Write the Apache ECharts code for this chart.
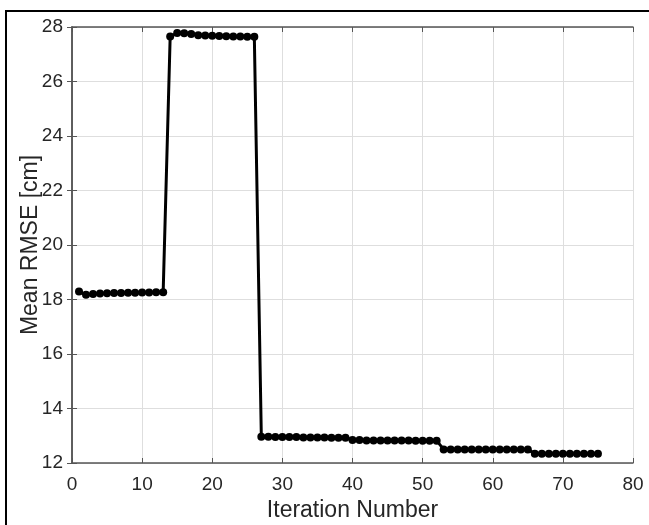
<!DOCTYPE html>
<html>
<head>
<meta charset="utf-8">
<script src="https://cdn.jsdelivr.net/npm/echarts@6/dist/echarts.min.js"></script>
<style>
  html, body { margin: 0; padding: 0; background: #fff; }
  #chart { width: 649px; height: 525px; }
</style>
</head>
<body>
<div id="chart"></div>
<script>
// iteration numbers on the x axis
var iterations = [
    1, 2, 3, 4, 5, 6, 7, 8, 9, 10, 11, 12, 13,
    14, 15, 16, 17, 18, 19, 20, 21, 22, 23, 24, 25, 26,
    27, 28, 29, 30, 31, 32, 33, 34, 35, 36, 37, 38, 39,
    40, 41, 42, 43, 44, 45, 46, 47, 48, 49, 50, 51, 52,
    53, 54, 55, 56, 57, 58, 59, 60, 61, 62, 63, 64, 65,
    66, 67, 68, 69, 70, 71, 72, 73, 74, 75
];
// mean RMSE per iteration, in cm
var meanRmse = [
    18.29, 18.17, 18.20, 18.22, 18.23, 18.24, 18.24, 18.25, 18.25, 18.26, 18.26, 18.27, 18.27,
    27.65, 27.78, 27.77, 27.74, 27.70, 27.69, 27.68, 27.67, 27.66, 27.65, 27.65, 27.64, 27.64,
    12.96, 12.96, 12.95, 12.95, 12.95, 12.95, 12.94, 12.94, 12.94, 12.94, 12.93, 12.93, 12.93,
    12.84, 12.84, 12.83, 12.83, 12.83, 12.83, 12.83, 12.83, 12.83, 12.82, 12.82, 12.82, 12.82,
    12.50, 12.50, 12.50, 12.50, 12.50, 12.50, 12.50, 12.50, 12.50, 12.50, 12.50, 12.50, 12.50,
    12.34, 12.34, 12.34, 12.34, 12.34, 12.34, 12.34, 12.34, 12.34, 12.34
];
var xTicks = [0, 10, 20, 30, 40, 50, 60, 70, 80];
var yTicks = [12, 14, 16, 18, 20, 22, 24, 26, 28];

var points = [];
for (var i = 0; i < iterations.length; i++) {
    points.push([iterations[i], meanRmse[i]]);
}

var axisColor = '#555';
var font = 'Liberation Sans, Arial, sans-serif';
var labelStyle = { color: '#262626', fontSize: 19, fontFamily: font };
var nameStyle = { color: '#262626', fontSize: 23, fontFamily: font };

var chart = echarts.init(document.getElementById('chart'), null, { renderer: 'canvas' });

var option = {
    backgroundColor: '#fff',
    animation: false,
    // keep the plot box fixed, do not shrink it to fit the labels
    grid: { left: 72, right: 16, top: 27, bottom: 62, containLabel: false, outerBoundsMode: 'none' },
    graphic: [
        { type: 'line', shape: { x1: 5, y1: 11, x2: 649, y2: 11 }, style: { stroke: '#000', lineWidth: 2 } },
        { type: 'line', shape: { x1: 6, y1: 10, x2: 6, y2: 525 }, style: { stroke: '#000', lineWidth: 2 } }
    ],
    xAxis: [{
        type: 'value',
        min: xTicks[0],
        max: xTicks[xTicks.length - 1],
        interval: 10,
        name: 'Iteration Number',
        nameLocation: 'middle',
        nameGap: 36,
        nameMoveOverlap: false,
        nameTextStyle: nameStyle,
        axisLine: { lineStyle: { color: axisColor, width: 1.5 } },
        axisTick: { inside: true, length: 5, lineStyle: { color: axisColor } },
        axisLabel: Object.assign({ margin: 12 }, labelStyle),
        splitLine: { show: true, lineStyle: { color: '#dedede', width: 1 } }
    }, {
        type: 'value',
        position: 'top',
        min: xTicks[0],
        max: xTicks[xTicks.length - 1],
        interval: 10,
        axisLine: { show: true, lineStyle: { color: axisColor, width: 1.5 } },
        axisTick: { show: true, inside: true, length: 5, lineStyle: { color: axisColor } },
        axisLabel: { show: false },
        splitLine: { show: false }
    }],
    yAxis: [{
        type: 'value',
        min: yTicks[0],
        max: yTicks[yTicks.length - 1],
        interval: 2,
        name: 'Mean RMSE [cm]',
        nameLocation: 'middle',
        nameGap: 30,
        nameMoveOverlap: false,
        nameTextStyle: nameStyle,
        axisLine: { show: true, lineStyle: { color: axisColor, width: 1.5 } },
        axisTick: { show: true, inside: true, length: 5, lineStyle: { color: axisColor } },
        axisLabel: Object.assign({ margin: 9 }, labelStyle),
        splitLine: { show: true, lineStyle: { color: '#dedede', width: 1 } }
    }, {
        type: 'value',
        position: 'right',
        min: yTicks[0],
        max: yTicks[yTicks.length - 1],
        interval: 2,
        axisLine: { show: true, lineStyle: { color: axisColor, width: 1.5 } },
        axisTick: { show: true, inside: true, length: 5, lineStyle: { color: axisColor } },
        axisLabel: { show: false },
        splitLine: { show: false }
    }],
    series: [{
        name: 'Mean RMSE',
        type: 'line',
        xAxisIndex: 0,
        yAxisIndex: 0,
        data: points,
        symbol: 'circle',
        symbolSize: 8,
        lineStyle: { color: '#000', width: 3 },
        itemStyle: { color: '#000' }
    }]
};

chart.setOption(option);
</script>
</body>
</html>
